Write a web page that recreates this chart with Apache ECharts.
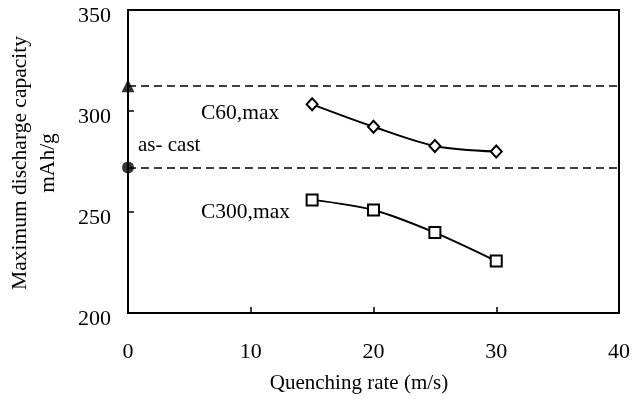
<!DOCTYPE html>
<html>
<head>
<meta charset="utf-8">
<script src="https://cdn.jsdelivr.net/npm/echarts@6/dist/echarts.min.js"></script>
<style>html,body{margin:0;padding:0;background:#fff;}#c{width:633px;height:399px;}</style>
</head>
<body>
<div id="c"></div>
<script>
const rates = [15, 20, 25, 30];
const c60 = [303.3, 292.2, 282.7, 279.9];
const c300 = [256, 251, 239.8, 225.7];
const asCastTriangle = 312.5;
const asCastCircle = 272;
const xTicks = [0, 10, 20, 30, 40];
const yTicks = [200, 250, 300, 350];

const FONT = 'Liberation Serif';
const chart = echarts.init(document.getElementById('c'));
chart.setOption({
  animation: false,
  backgroundColor: '#fff',
  grid: { left: 128, right: 14, top: 10, bottom: 86, show: true, borderColor: '#000', borderWidth: 2, backgroundColor: 'transparent', outerBoundsMode: 'none', containLabel: false },
  xAxis: {
    type: 'value', min: xTicks[0], max: xTicks[xTicks.length - 1], interval: 10,
    axisLine: { lineStyle: { color: '#000', width: 2 } },
    axisTick: { inside: true, length: 6, lineStyle: { color: '#000', width: 1.5 } },
    splitLine: { show: false },
    axisLabel: { color: '#000', fontFamily: FONT, fontSize: 22, margin: 28 }
  },
  yAxis: {
    type: 'value', min: yTicks[0], max: yTicks[yTicks.length - 1], interval: 50,
    axisLine: { lineStyle: { color: '#000', width: 2 } },
    axisTick: { inside: true, length: 6, lineStyle: { color: '#000', width: 1.5 } },
    splitLine: { show: false },
    axisLabel: { color: '#000', fontFamily: FONT, fontSize: 22, margin: 17, verticalAlign: 'top', lineHeight: 12 }
  },
  graphic: [
    { type: 'text', x: 34, y: 163, rotation: Math.PI / 2,
      style: { text: 'Maximum discharge capacity\nmAh/g', fill: '#000', font: '21.5px "Liberation Serif"', textAlign: 'center', textVerticalAlign: 'middle', lineHeight: 28 } },
    { type: 'text', x: 359, y: 383,
      style: { text: 'Quenching rate (m/s)', fill: '#000', font: '21px "Liberation Serif"', textAlign: 'center', textVerticalAlign: 'middle' } },
    { type: 'text', x: 201, y: 113, style: { text: 'C60,max', fill: '#000', font: '21.5px "Liberation Serif"', textVerticalAlign: 'middle' } },
    { type: 'text', x: 138, y: 145, style: { text: 'as- cast', fill: '#000', font: '21px "Liberation Serif"', textVerticalAlign: 'middle' } },
    { type: 'text', x: 201, y: 212, style: { text: 'C300,max', fill: '#000', font: '21.5px "Liberation Serif"', textVerticalAlign: 'middle' } }
  ],
  series: [
    {
      type: 'line', data: rates.map((r, i) => [r, c60[i]]), smooth: 0.3,
      symbol: 'diamond', symbolSize: [11, 12],
      lineStyle: { color: '#000', width: 2 },
      itemStyle: { color: '#fff', borderColor: '#000', borderWidth: 2 },
      markLine: {
        silent: true, symbol: 'none', label: { show: false },
        lineStyle: { color: '#000', type: [8, 5], width: 1.5 },
        data: [{ yAxis: asCastTriangle }, { yAxis: asCastCircle }]
      }
    },
    {
      type: 'line', data: rates.map((r, i) => [r, c300[i]]), smooth: 0.3,
      symbol: 'rect', symbolSize: 11,
      lineStyle: { color: '#000', width: 2 },
      itemStyle: { color: '#fff', borderColor: '#000', borderWidth: 2 }
    },
    {
      type: 'scatter', clip: false, data: [[0, asCastTriangle]], symbol: 'triangle', symbolSize: 13,
      itemStyle: { color: '#000' }
    },
    {
      type: 'scatter', clip: false, data: [[0, asCastCircle]], symbol: 'circle', symbolSize: 12,
      itemStyle: { color: '#000' }
    }
  ]
});
</script>
</body>
</html>
